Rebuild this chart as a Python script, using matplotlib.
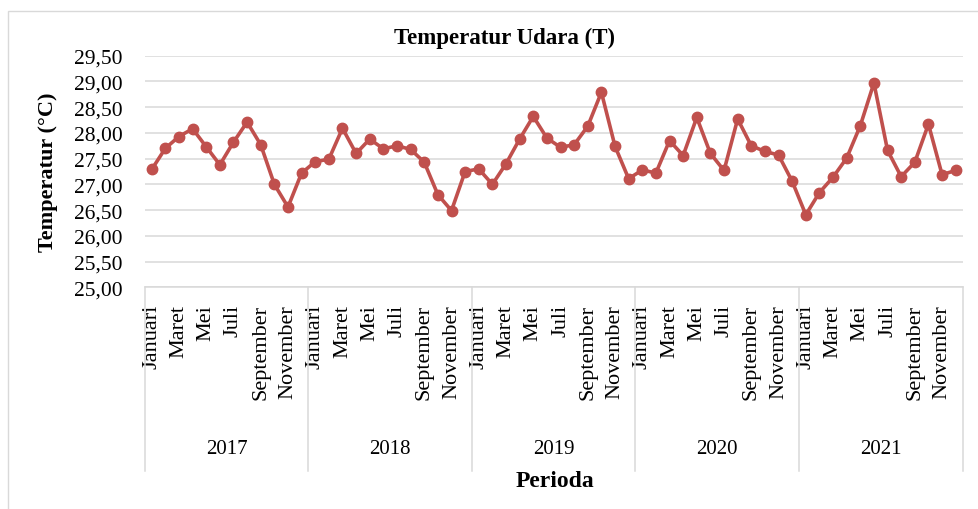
import matplotlib.pyplot as plt
import matplotlib.transforms as mtransforms
from matplotlib.patches import Rectangle

years = ["2017", "2018", "2019", "2020", "2021"]
months = ["Januari", "Februari", "Maret", "April", "Mei", "Juni", "Juli",
          "Agustus", "September", "Oktober", "November", "Desember"]
suhu = [
    27.29, 27.70, 27.93, 28.08, 27.73, 27.38, 27.82, 28.21, 27.77, 27.00, 26.56, 27.22,
    27.44, 27.49, 28.09, 27.60, 27.88, 27.69, 27.75, 27.68, 27.43, 26.80, 26.49, 27.25,
    27.30, 27.00, 27.40, 27.88, 28.32, 27.90, 27.72, 27.77, 28.13, 28.79, 27.74, 27.11,
    27.28, 27.22, 27.85, 27.56, 28.30, 27.60, 27.27, 28.27, 27.75, 27.64, 27.57, 27.06,
    26.41, 26.84, 27.14, 27.51, 28.14, 28.97, 27.66, 27.15, 27.43, 28.17, 27.19, 27.27,
]
yticks = [25.0, 25.5, 26.0, 26.5, 27.0, 27.5, 28.0, 28.5, 29.0, 29.5]

plt.rcParams['font.family'] = ['Liberation Serif', 'DejaVu Serif']

W, H = 979, 510
fig = plt.figure(figsize=(W / 100, H / 100), dpi=100)
ax = fig.add_axes([144.9 / W, 1 - 288.3 / H, (962.5 - 144.9) / W, (288.3 - 56.7) / H])

# outer chart border
fig.patches.append(Rectangle((8 / W, -0.1), 1.2, 1 - 12 / H + 0.1, transform=fig.transFigure,
                             fill=False, edgecolor='#d9d9d9', linewidth=1))

x = list(range(len(suhu)))
ax.plot(x, suhu, color='#c0504d', linewidth=2.6, marker='o', markersize=7.5, zorder=3)

ax.set_xlim(-0.5, len(suhu) - 0.5)
ax.set_ylim(25, 29.5)
ax.set_yticks(yticks)
ax.set_yticklabels([f"{v:.2f}".replace('.', ',') for v in yticks], fontsize=15.5)
ax.yaxis.grid(True, color='#d9d9d9', linewidth=1.1)
ax.set_axisbelow(True)

labels = []
pos = []
for i in range(len(suhu)):
    if i % 2 == 0:
        pos.append(i)
        labels.append(months[i % 12])
ax.set_xticks(pos)
ax.set_xticklabels(labels, rotation=90, fontsize=16, va='top')
ax.tick_params(axis='x', length=0, pad=12)
ax.tick_params(axis='y', length=0, pad=16)

for s in ['top', 'right', 'left']:
    ax.spines[s].set_visible(False)
ax.spines['bottom'].set_color('#d9d9d9')
ax.spines['bottom'].set_linewidth(1.1)

trans = mtransforms.blended_transform_factory(ax.transData, ax.transAxes)
for k in range(len(years) + 1):
    ax.plot([12 * k - 0.5, 12 * k - 0.5], [0, -0.793], transform=trans,
            color='#d9d9d9', linewidth=1.1, clip_on=False)
for k, yr in enumerate(years):
    ax.text(12 * k + 5.5, -0.698, yr, transform=trans, ha='center', va='center', fontsize=15)

fig.text(505 / W, 1 - 38 / H, "Temperatur Udara (T)", ha='center', va='center',
         fontsize=16.5, fontweight='bold')
fig.text(48 / W, 1 - 172 / H, "Temperatur (°C)", ha='center', va='center',
         rotation=90, fontsize=16, fontweight='bold')
fig.text(555 / W, 1 - 482 / H, "Perioda", ha='center', va='center',
         fontsize=17, fontweight='bold')

fig.savefig("out.png", dpi=100)
